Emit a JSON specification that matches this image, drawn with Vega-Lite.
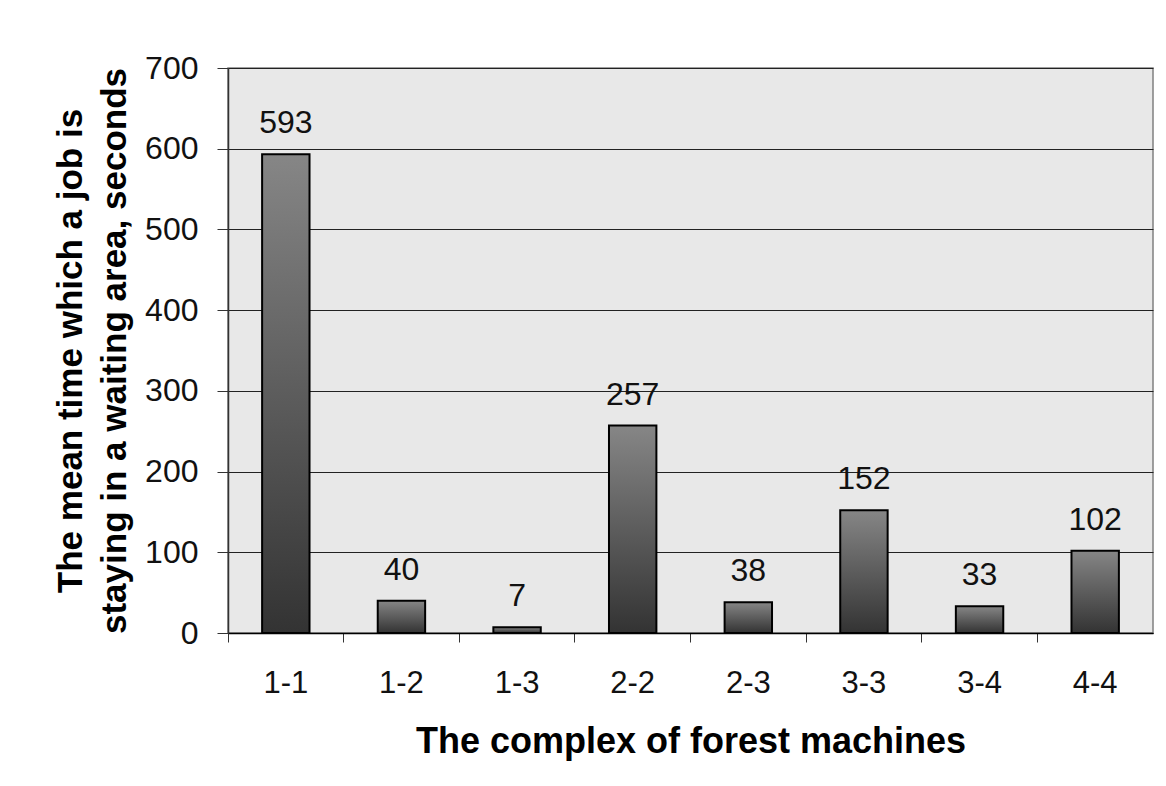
{
  "$schema": "https://vega.github.io/schema/vega-lite/v6.json",
  "autosize": {"type": "none"},
  "width": 925,
  "height": 565,
  "padding": {"left": 228, "top": 68, "right": 13, "bottom": 153},
  "background": "white",
  "config": {
    "font": "Liberation Sans",
    "view": {"fill": "#e8e8e8", "stroke": "#808080", "strokeWidth": 1.5}
  },
  "data": {
    "values": [
      {"complex": "1-1", "time": 593},
      {"complex": "1-2", "time": 40},
      {"complex": "1-3", "time": 7},
      {"complex": "2-2", "time": 257},
      {"complex": "2-3", "time": 38},
      {"complex": "3-3", "time": 152},
      {"complex": "3-4", "time": 33},
      {"complex": "4-4", "time": 102}
    ]
  },
  "encoding": {
    "x": {
      "field": "complex",
      "type": "nominal",
      "sort": null,
      "scale": {"paddingInner": 0, "paddingOuter": 0},
      "axis": {
        "title": "The complex of forest machines",
        "titleFont": "Liberation Sans",
        "titleFontSize": 36,
        "titleFontWeight": "bold",
        "titleColor": "#000",
        "titlePadding": 26,
        "labelFont": "Liberation Sans",
        "labelFontSize": 31,
        "labelColor": "#111",
        "labelAngle": 0,
        "labelPadding": 26,
        "bandPosition": 0,
        "tickSize": 9,
        "tickColor": "#333",
        "domainColor": "#000",
        "domainWidth": 1.5,
        "grid": false
      }
    },
    "y": {
      "field": "time",
      "type": "quantitative",
      "scale": {"domain": [0, 700], "nice": false},
      "axis": {
        "title": ["The mean time which a job is", "staying in a waiting area, seconds"],
        "titleFont": "Liberation Sans",
        "titleFontSize": 35,
        "titleFontWeight": "bold",
        "titleColor": "#000",
        "titleLineHeight": 44,
        "titlePadding": 12,
        "labelFont": "Liberation Sans",
        "labelFontSize": 32,
        "labelColor": "#111",
        "labelPadding": 19,
        "values": [0, 100, 200, 300, 400, 500, 600, 700],
        "tickSize": 11,
        "tickColor": "#333",
        "domainColor": "#333",
        "domainWidth": 1.5,
        "grid": true,
        "gridColor": "#222",
        "gridWidth": 1
      }
    }
  },
  "layer": [
    {
      "mark": {
        "type": "bar",
        "width": {"band": 0.41},
        "stroke": "#000",
        "strokeWidth": 2,
        "color": {
          "gradient": "linear",
          "x1": 0, "y1": 0, "x2": 0, "y2": 1,
          "stops": [
            {"offset": 0, "color": "#868686"},
            {"offset": 1, "color": "#333333"}
          ]
        }
      }
    },
    {
      "mark": {
        "type": "text",
        "baseline": "alphabetic",
        "dy": -21,
        "fontSize": 32,
        "font": "Liberation Sans",
        "color": "#111"
      },
      "encoding": {"text": {"field": "time", "type": "quantitative"}}
    }
  ]
}
